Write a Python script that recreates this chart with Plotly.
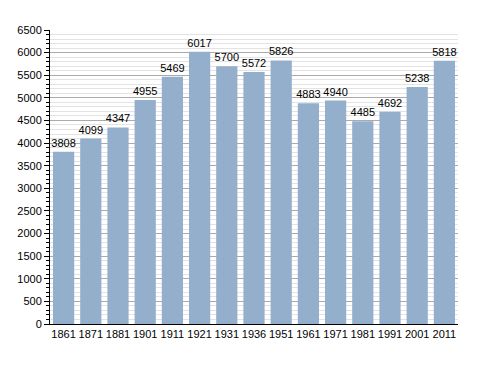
import plotly.graph_objects as go

years = ["1861", "1871", "1881", "1901", "1911", "1921", "1931", "1936", "1951",
         "1961", "1971", "1981", "1991", "2001", "2011"]
population = [3808, 4099, 4347, 4955, 5469, 6017, 5700, 5572, 5826,
              4883, 4940, 4485, 4692, 5238, 5818]

fig = go.Figure(go.Bar(
    x=years, y=population,
    marker=dict(color="#93afcc", line=dict(width=0)),
    text=[str(v) for v in population],
    textposition="outside",
    constraintext="none",
    textfont=dict(family="Liberation Sans, Arial", size=11, color="black"),
    cliponaxis=False,
    hoverinfo="skip",
))

fig.update_layout(
    width=488, height=373,
    margin=dict(l=50, r=30, t=30, b=49),
    paper_bgcolor="white", plot_bgcolor="white",
    bargap=0.22,
    showlegend=False,
    font=dict(family="Liberation Sans, Arial", size=11, color="black"),
)
fig.update_xaxes(
    type="category", showline=True, linecolor="black", linewidth=1,
    ticks="", showgrid=False, tickfont=dict(size=11),
)
fig.update_yaxes(
    range=[0, 6500], tick0=0, dtick=500, showline=True, linecolor="black", linewidth=1,
    ticks="outside", ticklen=5, tickcolor="black",
    showgrid=True, gridcolor="#aaaaaa", gridwidth=1,
    minor=dict(dtick=100, ticks="outside", ticklen=3, tickcolor="black",
               showgrid=True, gridcolor="#e3e3e3", gridwidth=1),
    zeroline=False, tickfont=dict(size=11),
)

fig.write_html("out.html", config={"displayModeBar": False},
               post_script="document.body.style.margin='0';")
